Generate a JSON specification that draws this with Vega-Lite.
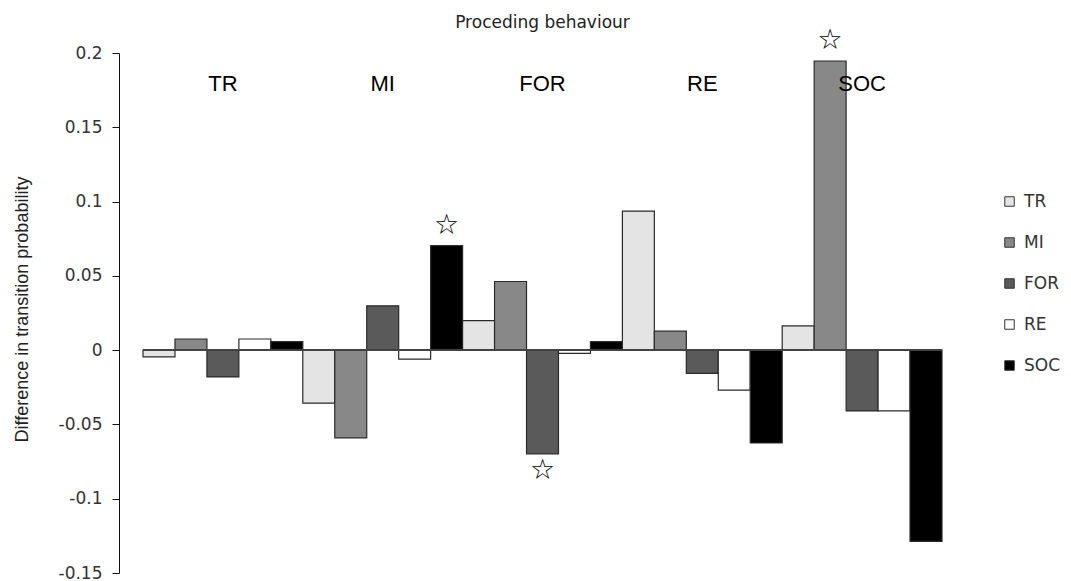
{
  "$schema": "https://vega.github.io/schema/vega-lite/v6.json",
  "width": 799,
  "height": 520,
  "autosize": "none",
  "padding": {"left": 143, "top": 53, "right": 129, "bottom": 8},
  "background": "white",
  "config": {"view": {"stroke": null}, "font": "DejaVu Sans"},
  "title": {"text": "Proceding behaviour", "font": "DejaVu Sans", "fontSize": 17, "fontWeight": "normal", "color": "#222", "frame": "group", "anchor": "middle", "offset": -5},
  "data": {"values": [
    {"group": "TR", "type": "TR", "value": -0.0045, "sig": false},
    {"group": "TR", "type": "MI", "value": 0.0075, "sig": false},
    {"group": "TR", "type": "FOR", "value": -0.018, "sig": false},
    {"group": "TR", "type": "RE", "value": 0.0075, "sig": false},
    {"group": "TR", "type": "SOC", "value": 0.0057, "sig": false},
    {"group": "MI", "type": "TR", "value": -0.0357, "sig": false},
    {"group": "MI", "type": "MI", "value": -0.059, "sig": false},
    {"group": "MI", "type": "FOR", "value": 0.0298, "sig": false},
    {"group": "MI", "type": "RE", "value": -0.006, "sig": false},
    {"group": "MI", "type": "SOC", "value": 0.0703, "sig": true},
    {"group": "FOR", "type": "TR", "value": 0.0199, "sig": false},
    {"group": "FOR", "type": "MI", "value": 0.0462, "sig": false},
    {"group": "FOR", "type": "FOR", "value": -0.0698, "sig": true},
    {"group": "FOR", "type": "RE", "value": -0.0022, "sig": false},
    {"group": "FOR", "type": "SOC", "value": 0.0057, "sig": false},
    {"group": "RE", "type": "TR", "value": 0.0936, "sig": false},
    {"group": "RE", "type": "MI", "value": 0.0128, "sig": false},
    {"group": "RE", "type": "FOR", "value": -0.0157, "sig": false},
    {"group": "RE", "type": "RE", "value": -0.0269, "sig": false},
    {"group": "RE", "type": "SOC", "value": -0.0625, "sig": false},
    {"group": "SOC", "type": "TR", "value": 0.0164, "sig": false},
    {"group": "SOC", "type": "MI", "value": 0.1946, "sig": true},
    {"group": "SOC", "type": "FOR", "value": -0.0409, "sig": false},
    {"group": "SOC", "type": "RE", "value": -0.0409, "sig": false},
    {"group": "SOC", "type": "SOC", "value": -0.1287, "sig": false}
  ]},
  "encoding": {
    "x": {"field": "group", "type": "nominal", "sort": ["TR", "MI", "FOR", "RE", "SOC"], "scale": {"paddingInner": 0, "paddingOuter": 0}, "axis": null},
    "y": {"field": "value", "type": "quantitative", "scale": {"domain": [-0.15, 0.2], "nice": false, "zero": false},
      "axis": {"title": "Difference in transition probability", "values": [-0.15, -0.1, -0.05, 0, 0.05, 0.1, 0.15, 0.2], "labelExpr": "'' + datum.value", "grid": false, "offset": 24, "domainColor": "#111", "tickColor": "#111", "tickSize": 7, "labelPadding": 10, "labelFont": "DejaVu Sans", "labelFontSize": 17, "labelColor": "#333", "titleFont": "Liberation Sans", "titleFontSize": 18, "titleFontWeight": "normal", "titleColor": "#222", "titleX": -97, "titleY": 256, "titleBaseline": "middle"}}
  },
  "layer": [
    {
      "mark": {"type": "bar", "stroke": "#2a2a2a", "strokeWidth": 1.2},
      "encoding": {
        "xOffset": {"field": "type", "type": "nominal", "sort": ["TR", "MI", "FOR", "RE", "SOC"], "scale": {"paddingInner": 0, "paddingOuter": 0}},
        "fill": {"field": "type", "type": "nominal", "sort": ["TR", "MI", "FOR", "RE", "SOC"],
          "scale": {"domain": ["TR", "MI", "FOR", "RE", "SOC"], "range": ["#e4e4e4", "#888888", "#5a5a5a", "#ffffff", "#000000"]},
          "legend": {"orient": "none", "legendX": 858, "legendY": 140, "title": null, "symbolType": "square", "symbolSize": 90, "symbolStrokeColor": "#333", "symbolStrokeWidth": 1, "labelFont": "DejaVu Sans", "labelFontSize": 17, "labelColor": "#333", "rowPadding": 23, "labelOffset": 6}}
      }
    },
    {
      "mark": {"type": "rule", "color": "#444", "strokeWidth": 1},
      "encoding": {"y": {"datum": 0, "type": "quantitative"}, "x": null}
    },
    {
      "transform": [{"filter": "datum.type == 'TR'"}],
      "mark": {"type": "text", "font": "Liberation Sans", "fontSize": 22, "baseline": "middle", "color": "#000"},
      "encoding": {"y": {"datum": 0.179, "type": "quantitative"}, "text": {"field": "group"}}
    },
    {
      "transform": [{"filter": "datum.sig && datum.value > 0"}],
      "mark": {"type": "text", "text": "☆", "font": "DejaVu Sans", "fontSize": 28, "baseline": "middle", "dy": -20, "color": "#000"},
      "encoding": {
        "xOffset": {"field": "type", "type": "nominal", "sort": ["TR", "MI", "FOR", "RE", "SOC"], "scale": {"paddingInner": 0, "paddingOuter": 0}}
      }
    },
    {
      "transform": [{"filter": "datum.sig && datum.value < 0"}],
      "mark": {"type": "text", "text": "☆", "font": "DejaVu Sans", "fontSize": 28, "baseline": "middle", "dy": 17, "color": "#000"},
      "encoding": {
        "xOffset": {"field": "type", "type": "nominal", "sort": ["TR", "MI", "FOR", "RE", "SOC"], "scale": {"paddingInner": 0, "paddingOuter": 0}}
      }
    }
  ]
}
